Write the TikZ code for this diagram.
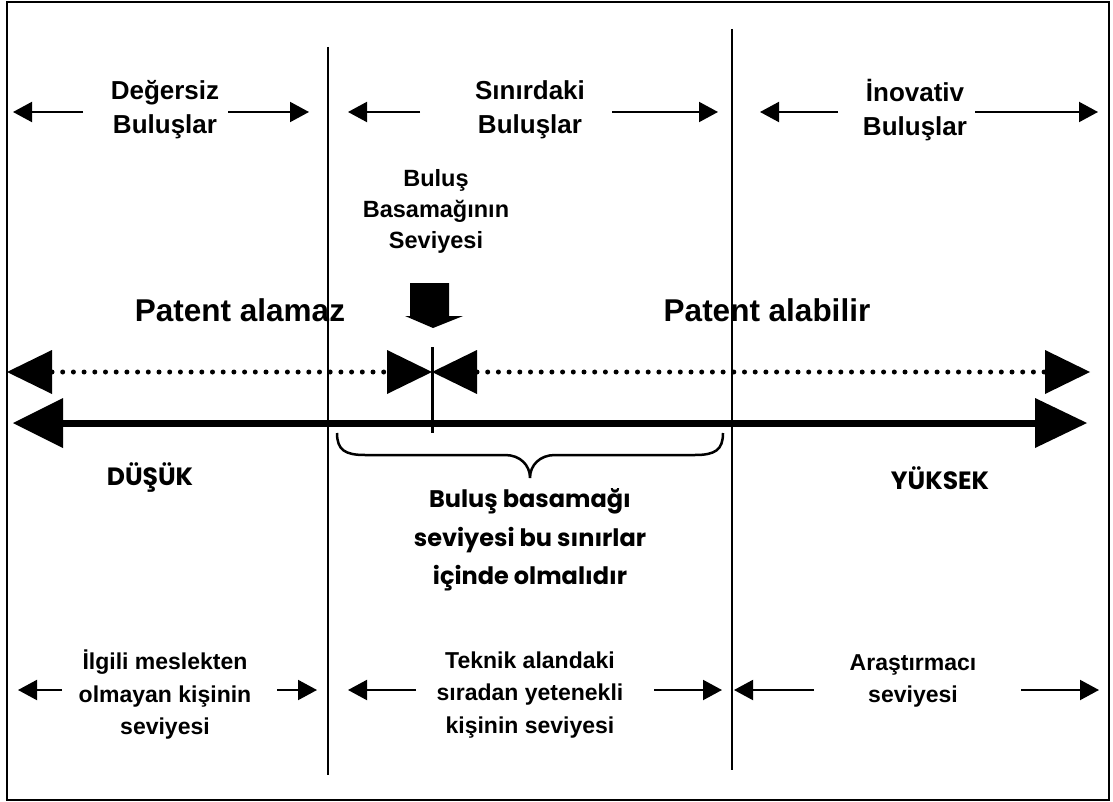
\documentclass[tikz,border=0pt]{standalone}
\usepackage{fontspec}
\setmainfont{Liberation Sans}
\newfontfamily\geo{Poppins}
\usetikzlibrary{arrows.meta}
\tikzset{
  toplbl/.style={font=\bfseries\fontsize{26}{34}\selectfont, align=center, inner sep=0pt},
  midlbl/.style={font=\bfseries\fontsize{23.5}{31}\selectfont, align=center, inner sep=0pt},
  patlbl/.style={font=\bfseries\fontsize{31.5}{34}\selectfont, inner sep=0pt},
  botlbl/.style={font=\bfseries\fontsize{23}{32.5}\selectfont, align=center, inner sep=0pt},
  geolbl/.style={font=\geo\bfseries\fontsize{24}{38.5}\selectfont, align=center, inner sep=0pt},
  extlbl/.style={font=\geo\bfseries\fontsize{25}{28}\selectfont, inner sep=0pt},
  smallarr/.style={line width=2pt, -{Triangle[length=19pt,width=20pt]}},
  divider/.style={line width=1.5pt},
  dotline/.style={line width=5pt, line cap=round, dash pattern=on 0pt off 10.7pt},
  thickline/.style={line width=7pt},
  head/.style={fill=black},
}
\begin{document}
\begin{tikzpicture}[x=1pt,y=-1pt]
\useasboundingbox (0,0) rectangle (1113,802);
\draw[line width=2pt] (6.5,2) rectangle (1109,800);
% dividers
\coordinate (d1t) at (328,47); \coordinate (d1b) at (328,775);
\coordinate (d2t) at (732,29); \coordinate (d2b) at (732,770);
\draw[divider] (d1t) -- (d1b);
\draw[divider] (d2t) -- (d2b);
% top labels
\node[toplbl] (deg) at (165,110) {Değersiz\\Buluşlar};
\node[toplbl] (sin) at (530,110) {Sınırdaki\\Buluşlar};
\node[toplbl] (ino) at (915,110) {İnovativ\\Buluşlar};
\coordinate (a1) at (83,112); \coordinate (a1t) at (13,112);
\coordinate (a2) at (228,112); \coordinate (a2t) at (309,112);
\coordinate (a3) at (420,112); \coordinate (a3t) at (348,112);
\coordinate (a4) at (612,112); \coordinate (a4t) at (718,112);
\coordinate (a5) at (838,112); \coordinate (a5t) at (760,112);
\coordinate (a6) at (975,112); \coordinate (a6t) at (1098,112);
\foreach \s/\t in {a1/a1t,a2/a2t,a3/a3t,a4/a4t,a5/a5t,a6/a6t} \draw[smallarr] (\s) -- (\t);
% level label and down arrow
\node[midlbl] (bbs) at (436,211) {Buluş\\Basamağının\\Seviyesi};
\fill (410,283) -- (449,283) -- (449,316) -- (463,316) -- (433,328) -- (405,316) -- (410,316) -- cycle;
% patent labels
\node[patlbl] (pal) at (240,310) {Patent alamaz};
\node[patlbl] (pab) at (767,310) {Patent alabilir};
% dotted line
\coordinate (dl0) at (7,372); \coordinate (dl1) at (52,372);
\coordinate (bt1) at (387,372); \coordinate (bt0) at (432,372); \coordinate (bt2) at (477,372);
\coordinate (dr1) at (1045,372); \coordinate (dr0) at (1090,372);
\draw[dotline] (dl1) -- (bt1);
\draw[dotline] (bt2) -- (dr1);
\fill[head] (dl0) -- (52,350) -- (52,394) -- cycle;
\fill[head] (dr0) -- (1045,350) -- (1045,394) -- cycle;
\fill[head] (bt0) -- (387,350) -- (387,394) -- cycle;
\fill[head] (bt0) -- (477,350) -- (477,394) -- cycle;
% thick line
\coordinate (tl0) at (13,423); \coordinate (tl1) at (63,423);
\coordinate (tr1) at (1035,423); \coordinate (tr0) at (1087,423);
\draw[thickline] (tl1) -- (tr1);
\fill[head] (tl0) -- (63,398) -- (63,448) -- cycle;
\fill[head] (tr0) -- (1035,398) -- (1035,448) -- cycle;
% marker
\coordinate (mk0) at (432,347); \coordinate (mk1) at (432,433);
\draw[line width=3pt] (mk0) -- (mk1);
% brace
\draw[line width=2.5pt] (337,433) .. controls (337,450) and (345,455) .. (365,455) -- (505,455) .. controls (520,455) and (530,465) .. (530,478) .. controls (530,465) and (540,455) .. (555,455) -- (695,455) .. controls (715,455) and (723,450) .. (723,433);
% low/high
\node[extlbl] (dus) at (150,478) {DÜŞÜK};
\node[extlbl] (yuk) at (940,478) {YÜKSEK};
\node[geolbl] (cen) at (530,540) {Buluş basamağı\\seviyesi bu sınırlar\\içinde olmalıdır};
% bottom labels
\node[botlbl] (ilg) at (165,695) {İlgili meslekten\\olmayan kişinin\\seviyesi};
\node[botlbl] (tek) at (530,695) {Teknik alandaki\\sıradan yetenekli\\kişinin seviyesi};
\node[botlbl] (ara) at (913,681) {Araştırmacı\\seviyesi};
\coordinate (b1) at (62,690); \coordinate (b1t) at (18,690);
\coordinate (b2) at (277,690); \coordinate (b2t) at (317,690);
\coordinate (b3) at (416,690); \coordinate (b3t) at (348,690);
\coordinate (b4) at (654,690); \coordinate (b4t) at (722,690);
\coordinate (b5) at (814,690); \coordinate (b5t) at (734,690);
\coordinate (b6) at (1021,690); \coordinate (b6t) at (1099,690);
\foreach \s/\t in {b1/b1t,b2/b2t,b3/b3t,b4/b4t,b5/b5t,b6/b6t} \draw[smallarr] (\s) -- (\t);
\end{tikzpicture}
\end{document}
